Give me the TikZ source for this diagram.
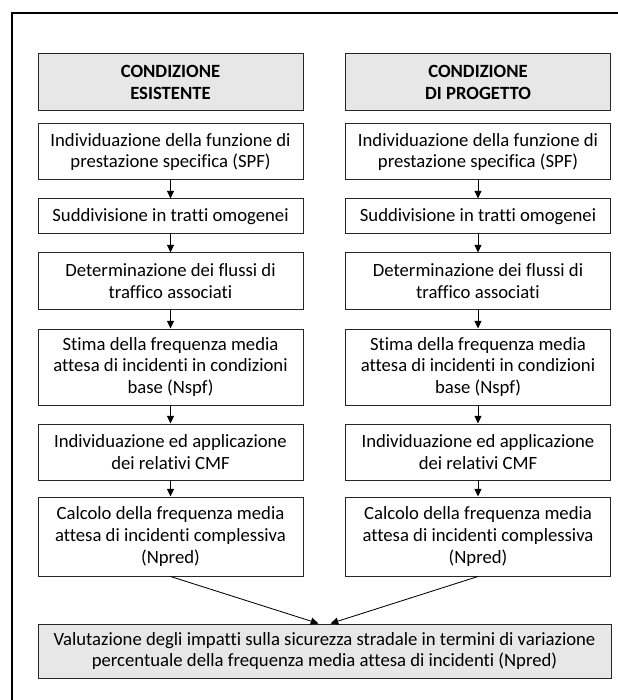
\documentclass[tikz,border=0pt]{standalone}
\usepackage{fontspec}
\setmainfont{Carlito}[Ligatures=NoCommon]
\usepackage{xcolor}
\usetikzlibrary{arrows,arrows.meta}
\definecolor{headgray}{RGB}{231,231,231}

\begin{document}
\begin{tikzpicture}[
    every node/.style={font=\fontsize{13.3}{15.6}\selectfont},
    box/.style={draw=black!85, line width=0.7pt, align=center, inner sep=0pt, minimum width=6.625cm},
    head/.style={box, fill=headgray, font=\fontsize{13.3}{15.6}\selectfont\bfseries},
    conn/.style={-{Triangle[length=5.5pt,width=5pt]}, line width=0.6pt}]
    \useasboundingbox (0,0) rectangle (15.45,17.5);
    % cornice esterna (tagliata a destra e in basso)
    \draw[line width=1.4pt] (0.3,-1) -- (0.3,17.175) -- (16,17.175);

    % condizione esistente
    \node[head, minimum height=1.425cm] (l0) at (4.2625,15.4375) {CONDIZIONE\\ESISTENTE};
    \node[box, minimum height=1.4cm] (l1) at (4.2625,13.7) {Individuazione della funzione di\\prestazione specifica (SPF)};
    \node[box, minimum height=0.875cm] (l2) at (4.2625,12.0875) {Suddivisione in tratti omogenei};
    \node[box, minimum height=1.4cm] (l3) at (4.2625,10.475) {Determinazione dei flussi di\\traffico associati};
    \node[box, minimum height=1.9cm] (l4) at (4.2625,8.325) {Stima della frequenza media\\attesa di incidenti in condizioni\\base (Nspf)};
    \node[box, minimum height=1.4cm] (l5) at (4.2625,6.2) {Individuazione ed applicazione\\dei relativi CMF};
    \node[box, minimum height=1.975cm] (l6) at (4.2625,4.0875) {Calcolo della frequenza media\\attesa di incidenti complessiva\\(Npred)};

    % condizione di progetto
    \node[head, minimum height=1.425cm] (r0) at (11.95,15.4375) {CONDIZIONE\\DI PROGETTO};
    \node[box, minimum height=1.4cm] (r1) at (11.95,13.7) {Individuazione della funzione di\\prestazione specifica (SPF)};
    \node[box, minimum height=0.875cm] (r2) at (11.95,12.0875) {Suddivisione in tratti omogenei};
    \node[box, minimum height=1.4cm] (r3) at (11.95,10.475) {Determinazione dei flussi di\\traffico associati};
    \node[box, minimum height=1.9cm] (r4) at (11.95,8.325) {Stima della frequenza media\\attesa di incidenti in condizioni\\base (Nspf)};
    \node[box, minimum height=1.4cm] (r5) at (11.95,6.2) {Individuazione ed applicazione\\dei relativi CMF};
    \node[box, minimum height=1.975cm] (r6) at (11.95,4.0875) {Calcolo della frequenza media\\attesa di incidenti complessiva\\(Npred)};

    % valutazione finale
    \node[box, fill=headgray, minimum width=14.325cm, minimum height=1.35cm] (fin) at (8.1125,1.225) {Valutazione degli impatti sulla sicurezza stradale in termini di variazione\\percentuale della frequenza media attesa di incidenti (Npred)};

    \draw[conn] (l1) -- (l2);
    \draw[conn] (l2) -- (l3);
    \draw[conn] (l3) -- (l4);
    \draw[conn] (l4) -- (l5);
    \draw[conn] (l5) -- (l6);
    \draw[conn] (r1) -- (r2);
    \draw[conn] (r2) -- (r3);
    \draw[conn] (r3) -- (r4);
    \draw[conn] (r4) -- (r5);
    \draw[conn] (r5) -- (r6);

    \draw[conn] (l6.south) -- ([xshift=-0.15cm]fin.north);
    \draw[conn] (r6.south) -- ([xshift=0.15cm]fin.north);
\end{tikzpicture}
\end{document}
